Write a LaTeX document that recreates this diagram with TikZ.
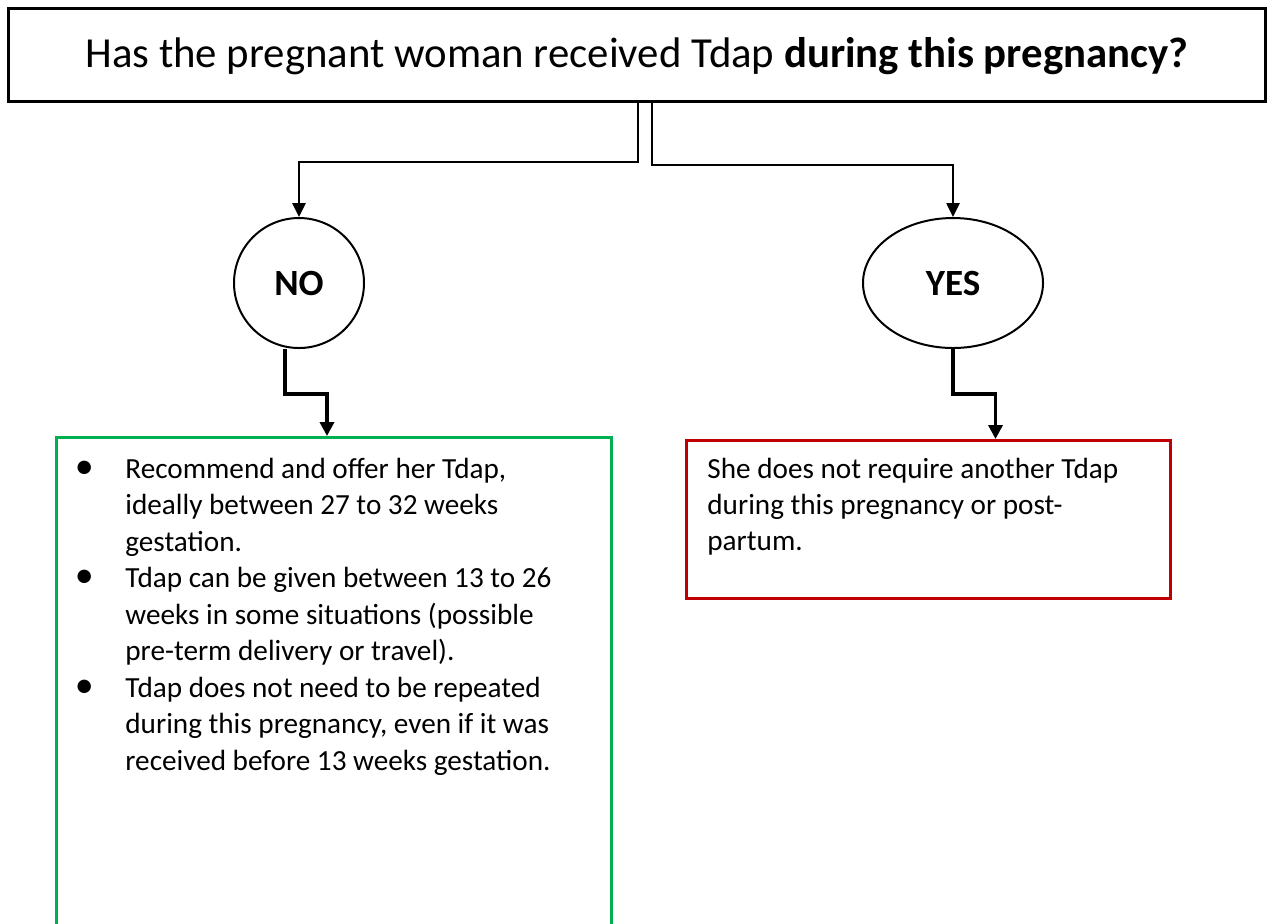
\documentclass[tikz,border=0pt]{standalone}
\usepackage{fontspec}
\setmainfont{Carlito}
\usetikzlibrary{arrows.meta,shapes.geometric}
\definecolor{boxgreen}{RGB}{0,176,80}
\definecolor{boxred}{RGB}{192,0,0}
\newcommand\blt{\makebox[0pt]{\scalebox{1.3}{\textbullet}}\hspace*{20.5pt}}
\newcommand\ind{\hspace*{20.5pt}}
\begin{document}
\begin{tikzpicture}[x=0.5pt,y=-0.5pt,
  framebox/.style={draw, line width=1.5pt, inner sep=0pt, rectangle},
  answer/.style={draw, line width=1pt, inner sep=0pt, font=\fontsize{18.5pt}{22pt}\selectfont\bfseries},
  conn/.style={line width=1.3pt, -{Triangle[width=6.5pt,length=7pt]}},
  connb/.style={line width=1.7pt, -{Triangle[width=7pt,length=7pt]}},
  body/.style={anchor=base west, inner sep=0pt, font=\fontsize{14.6pt}{18.25pt}\selectfont}]
\useasboundingbox (0,0) rectangle (1267,923);
\clip (0,0) rectangle (1267,923);
\fill[white] (0,0) rectangle (1267,923);

\node[framebox, anchor=north west, minimum width=628.5pt, minimum height=46.5pt,
  text height=17pt, text depth=4.5pt,
  font=\fontsize{21.4pt}{24pt}\selectfont] (title) at (7,7)
  {Has the pregnant woman received Tdap \textbf{during this pregnancy?}};

\node[answer, circle, minimum size=65pt] (no) at (299,283) {NO};
\node[answer, ellipse, minimum width=90pt, minimum height=65pt] (yes) at (953,283) {YES};

\node[framebox, draw=boxgreen, anchor=north west, minimum width=277.5pt, minimum height=265pt] (gbox) at (55,436) {};
\node[framebox, draw=boxred, anchor=north west, minimum width=242pt, minimum height=79pt] (rbox) at (685,439) {};

\node[body] (notext) at (84,478) {\vtop{\baselineskip=18.25pt
\hbox{\blt Recommend and offer her Tdap,}
\hbox{\ind ideally between 27 to 32 weeks}
\hbox{\ind gestation.}
\hbox{\blt Tdap can be given between 13 to 26}
\hbox{\ind weeks in some situations (possible}
\hbox{\ind pre-term delivery or travel).}
\hbox{\blt Tdap does not need to be repeated}
\hbox{\ind during this pregnancy, even if it was}
\hbox{\ind received before 13 weeks gestation.}}};

\node[body] (yestext) at (707,478) {\vtop{\baselineskip=18pt
\hbox{She does not require another Tdap}
\hbox{during this pregnancy or post-}
\hbox{partum.}}};

\draw[conn] ([xshift=0.5pt]title.south) -- ++(0,59) -| (no.north);
\draw[conn] ([xshift=7.5pt]title.south) -- ++(0,62) -| (yes.north);
\draw[connb] ([xshift=-7pt]no.south) -- ++(0,45) -| ([xshift=-3.5pt]gbox.north);
\draw[connb] (yes.south) -- ++(0,45) -| ([xshift=33.5pt]rbox.north);
\end{tikzpicture}
\end{document}
